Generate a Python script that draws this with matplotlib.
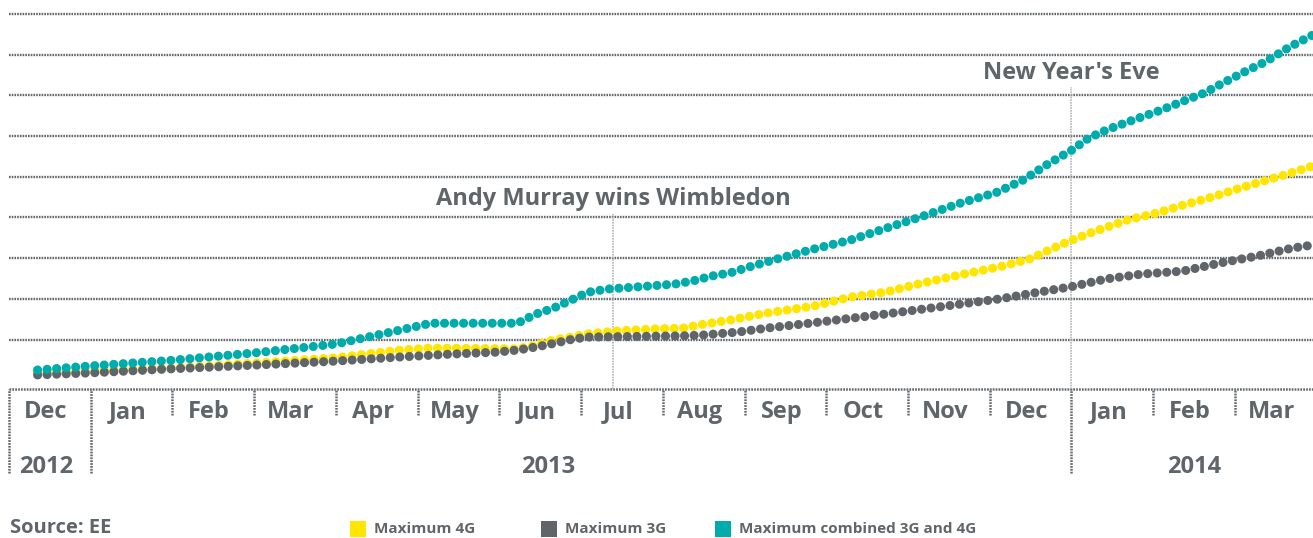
import matplotlib.pyplot as plt
from matplotlib.patches import Rectangle
from matplotlib.transforms import blended_transform_factory

# x = months since 1 Dec 2012, y = gridline units
x_4g = [0.35, 0.99, 1.99, 3.00, 4.00, 4.78, 5.16, 6.22, 6.44, 6.66, 6.88, 7.08, 7.44,
        7.90, 8.25, 8.45, 8.83, 9.27, 9.84, 10.29, 10.74, 11.18, 11.64, 12.13, 12.49,
        12.95, 13.26, 13.69, 14.05, 14.38, 14.72, 15.06, 15.40, 15.73, 15.95]
y_4g = [0.18, 0.23, 0.30, 0.42, 0.55, 0.74, 0.79, 0.77, 0.86, 0.99, 1.06, 1.14, 1.21,
        1.26, 1.28, 1.36, 1.48, 1.65, 1.82, 2.04, 2.17, 2.39, 2.59, 2.79, 2.98,
        3.40, 3.64, 3.94, 4.11, 4.31, 4.50, 4.72, 4.92, 5.12, 5.26]

x_3g = [0.35, 0.99, 1.99, 3.00, 4.00, 4.78, 5.40, 5.97, 6.22, 6.46, 6.68, 6.90, 7.08,
        8.25, 8.49, 8.91, 9.27, 9.84, 10.74, 11.64, 12.13, 12.53, 12.98, 13.43, 13.87,
        14.36, 14.82, 15.27, 15.71, 15.95]
y_3g = [0.13, 0.18, 0.28, 0.37, 0.47, 0.57, 0.64, 0.69, 0.74, 0.82, 0.91, 1.01, 1.06,
        1.09, 1.11, 1.18, 1.28, 1.41, 1.63, 1.87, 2.00, 2.14, 2.29, 2.49, 2.61,
        2.68, 2.88, 3.05, 3.25, 3.32]

x_comb = [0.35, 1.00, 2.00, 3.00, 4.00, 4.78, 5.16, 6.22, 6.44, 6.66, 6.88, 7.08, 7.32,
          7.67, 8.14, 8.37, 8.60, 8.83, 9.05, 9.40, 9.84, 10.29, 10.74, 11.18, 11.64,
          12.09, 12.41, 12.71, 13.01, 13.21, 13.43, 13.75, 14.10, 14.41, 14.63, 14.85,
          15.16, 15.37, 15.67, 15.95]
y_comb = [0.25, 0.35, 0.49, 0.67, 0.89, 1.23, 1.40, 1.40, 1.62, 1.77, 1.97, 2.16, 2.24,
          2.29, 2.36, 2.44, 2.56, 2.64, 2.78, 2.98, 3.22, 3.44, 3.74, 4.03, 4.35,
          4.62, 4.92, 5.31, 5.66, 5.95, 6.15, 6.39, 6.64, 6.89, 7.06, 7.30,
          7.62, 7.82, 8.19, 8.48]

months = ['Dec', 'Jan', 'Feb', 'Mar', 'Apr', 'May', 'Jun', 'Jul', 'Aug', 'Sep',
          'Oct', 'Nov', 'Dec', 'Jan', 'Feb', 'Mar']
years = ['2012', '2013', '2014']
year_starts = [0, 1, 13]
year_centers = [0.45, 6.6, 14.5]

events = ['Andy Murray wins Wimbledon', "New Year's Eve"]
event_x = [7.39, 13.0]
event_label_y = [4.45, 7.55]

legend_labels = ['Maximum 4G', 'Maximum 3G', 'Maximum combined 3G and 4G']
colors = ['#ffe500', '#5f6569', '#00abab']

TXT = '#5f6569'
GRID = '#63686c'
plt.rcParams['font.family'] = ['Open Sans', 'DejaVu Sans']

W, H = 1313, 538
fig = plt.figure(figsize=(W / 100, H / 100), dpi=100)
ax = fig.add_axes([9 / W, (H - 389) / H, (W - 9) / W, 389 / H])
ax.set_xlim(0, 15.955)
ax.set_ylim(-0.216, 9.342)
ax.axis('off')


def fy(py):
    return 1 - py / H


# gridlines + dotted base line
for v in range(1, 10):
    ax.axhline(v, color=GRID, lw=1.7, ls=(0, (0.7, 0.45)), zorder=1)
ax.axhline(-0.216, color=GRID, lw=1.8, ls=(0, (0.7, 0.45)), clip_on=False, zorder=1)

# month separators below the axis
tr = blended_transform_factory(ax.transData, fig.transFigure)
for i in range(len(months)):
    bottom = 473 if i in year_starts else 415
    ax.vlines(i, fy(bottom), fy(389), transform=tr, color=GRID, lw=1.8,
              ls=(0, (0.7, 0.45)), clip_on=False)
    ax.text(i + 0.45, fy(412), months[i], transform=tr, ha='center', va='center',
            fontsize=17, fontweight='bold', color=TXT)
for lab, xc in zip(years, year_centers):
    ax.text(xc, fy(467), lab, transform=tr, ha='center', va='center',
            fontsize=17, fontweight='bold', color=TXT)

# event markers
for lab, ex, ey in zip(events, event_x, event_label_y):
    ax.vlines(ex, -0.216, ey - 0.35, color='#b3b6b8', lw=1.2, ls=(0, (1, 0.6)), zorder=1)
    ax.text(ex, ey, lab, ha='center', va='center', fontsize=17, fontweight='bold',
            color=TXT)

# series as round-dot lines
dots = dict(lw=6.6, ls=(0, (0.001, 1.04)), dash_capstyle='round', zorder=3)
ax.plot(x_4g, y_4g, color=colors[0], **dots)
ax.plot(x_3g, y_3g, color=colors[1], **dots)
ax.plot(x_comb, y_comb, color=colors[2], **dots)

# footer
fig.text(10 / W, fy(528), 'Source: EE', ha='left', va='center', fontsize=14.5,
         fontweight='bold', color=TXT)
leg_x = [350, 541, 715]
for lx, lab, c in zip(leg_x, legend_labels, colors):
    fig.add_artist(Rectangle((lx / W, fy(537)), 16 / W, 16 / H, transform=fig.transFigure,
                             color=c, lw=0))
    fig.text((lx + 24) / W, fy(529), lab, ha='left', va='center', fontsize=11,
             fontweight='bold', color=TXT)

fig.savefig('out.png', dpi=100)
